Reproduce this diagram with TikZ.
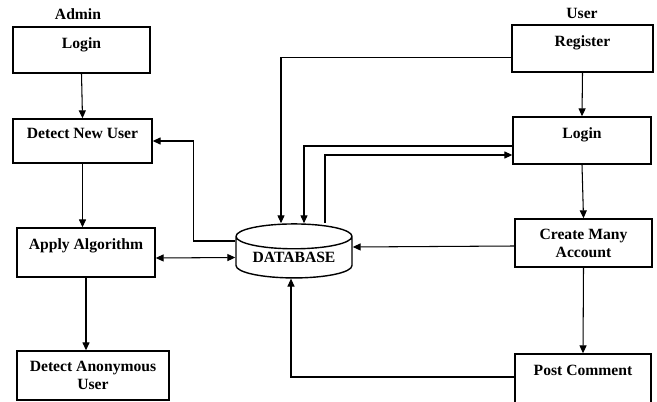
\documentclass[tikz,border=0pt]{standalone}
\usepackage{fontspec}
\setmainfont{Liberation Serif}
\usetikzlibrary{shapes.geometric,arrows.meta}

\begin{document}
\begin{tikzpicture}[font=\fontsize{8.9}{10.2}\selectfont\bfseries,
  >={Triangle[length=4.5pt,width=4pt]},
  box/.style={draw, line width=0.8pt, inner sep=0pt},
  toptext/.style={anchor=north, yshift=-3pt},
  link/.style={line width=0.6pt}]

\useasboundingbox (0,0) rectangle (13.14,8.02);

\node (admin) at (1.56,7.74) {Admin};
\node (user) at (11.64,7.76) {User};

\node[box, minimum width=2.74cm, minimum height=0.92cm] (alogin) at (1.63,7.02) {};
\node[toptext] (talogin) at (alogin.north) {Login};

\node[box, minimum width=2.78cm, minimum height=0.88cm] (newuser) at (1.65,5.2) {};
\node[toptext, yshift=1pt] (tnewuser) at (newuser.north) {Detect New User};

\node[box, minimum width=2.76cm, minimum height=0.98cm] (apply) at (1.72,2.97) {};
\node[toptext] (tapply) at (apply.north) {Apply Algorithm};

\node[box, minimum width=3.04cm, minimum height=0.98cm] (anon) at (1.86,0.51) {};
\node[align=center] (tanon) at (anon) {Detect Anonymous\\User};

\node[box, minimum width=2.82cm, minimum height=0.94cm] (register) at (11.65,7.05) {};
\node[toptext] (tregister) at (register.north) {Register};

\node[box, minimum width=2.76cm, minimum height=0.94cm] (ulogin) at (11.64,5.21) {};
\node[toptext] (tulogin) at (ulogin.north) {Login};

\node[box, minimum width=2.74cm, minimum height=0.96cm] (create) at (11.67,3.16) {};
\node[align=center] (tcreate) at (create) {Create Many\\Account};

\node[box, minimum width=2.72cm, minimum height=0.98cm] (post) at (11.66,0.45) {};
\node[toptext] (tpost) at (post.north) {Post Comment};

\node[box, cylinder, shape border rotate=90, aspect=0.3,
  minimum width=2.32cm, minimum height=1.08cm] (db) at (5.88,2.87) {DATABASE};

\draw[link,->] (alogin.south) -- (newuser.north);
\draw[link,->] (newuser.south) -- (newuser.south |- apply.north);
\draw[link,->] (apply.south) -- (apply.south |- anon.north);
\draw[link,->] ([yshift=0.33cm]db.west) -| ([xshift=0.82cm]newuser.east) -- (newuser.east);
\draw[link,<->] ([yshift=-0.11cm]apply.east) -- (db.west);

\draw[link,->] ([yshift=-0.18cm]register.west) -| ([xshift=-0.26cm]db.north);
\draw[link,->] ([yshift=-0.11cm]ulogin.west) -| ([xshift=0.2cm]db.north);
\draw[link,->] ([xshift=0.62cm]db.north) |- ([yshift=-0.29cm]ulogin.west);

\draw[link,->] (register.south) -- (ulogin.north);
\draw[link,->] (ulogin.south) -- (create.north);
\draw[link,->] ([yshift=-0.06cm]create.west) -- ([yshift=0.21cm]db.east);
\draw[link,->] (create.south) -- (post.north);
\draw[link,->] ([yshift=0.03cm]post.west) -| ([xshift=-0.06cm]db.south);

\end{tikzpicture}
\end{document}
